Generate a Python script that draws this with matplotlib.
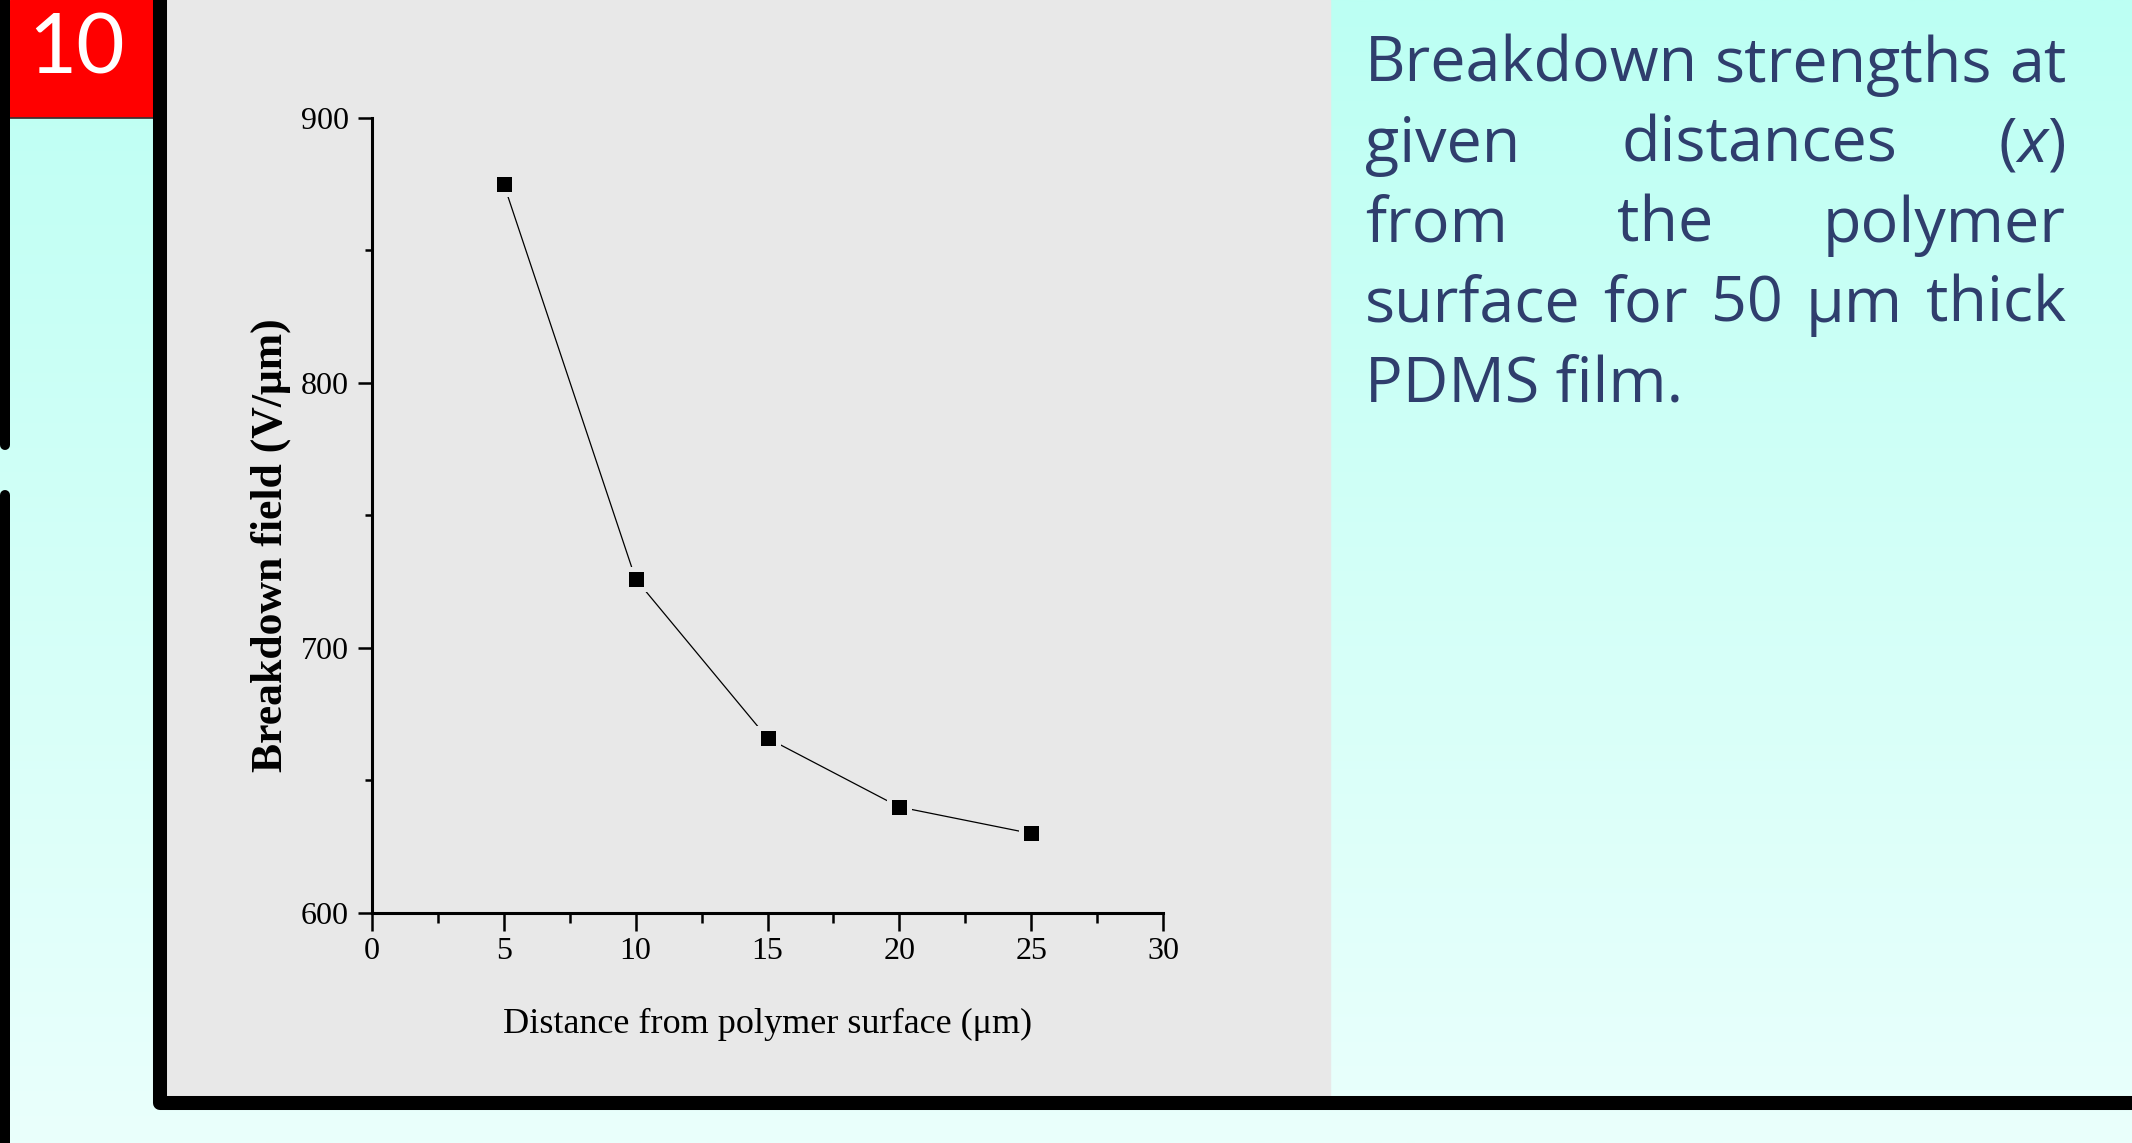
import matplotlib
matplotlib.use("Agg")
import matplotlib.pyplot as plt
import numpy as np
from matplotlib.patches import Rectangle
from matplotlib.ticker import MultipleLocator

# chart data
distance = [5, 10, 15, 20, 25]          # um from polymer surface
field = [875, 726, 666, 640, 630]       # breakdown field, V/um
x_ticks = [0, 5, 10, 15, 20, 25, 30]
y_ticks = [600, 700, 800, 900]

slide_no = "10"
x_label = "Distance from polymer surface (μm)"
y_label = "Breakdown field (V/μm)"
caption = [
    ["Breakdown", "strengths", "at"],
    ["given", "distances", "(*x*)"],
    ["from", "the", "polymer"],
    ["surface", "for", "50", "μm", "thick"],
    ["PDMS", "film."],
]

W, H = 2132, 1143
plt.rcParams["font.family"] = ["Liberation Serif", "DejaVu Serif"]

fig = plt.figure(figsize=(W / 100, H / 100), dpi=100)

# slide background, in pixel coordinates
bg = fig.add_axes([0, 0, 1, 1])
top_c = np.array([188, 255, 243]) / 255
bot_c = np.array([234, 255, 252]) / 255
t = np.linspace(0, 1, 256)[:, None, None]
grad = top_c * (1 - t) + bot_c * t
bg.imshow(grad, extent=[0, W, H, 0], aspect="auto", interpolation="bilinear", zorder=0)
bg.set_xlim(0, W)
bg.set_ylim(H, 0)
bg.axis("off")

bg.add_patch(Rectangle((167, 0), 1330 - 167, 1096, color="#E8E8E8", zorder=1))
bg.add_patch(Rectangle((10, 0), 143, 117, color="#FF0000", zorder=2))
bg.plot([10, 153], [117.5, 117.5], color="#333333", lw=1.2, zorder=2)
bg.plot([160, 160, 2145], [-20, 1102.5, 1102.5], color="black", lw=10.1,
        solid_joinstyle="round", solid_capstyle="butt", zorder=3)
bg.plot([5, 5], [-20, 445], color="black", lw=7.2, solid_capstyle="round", zorder=3)
bg.plot([5, 5], [495, 1180], color="black", lw=7.2, solid_capstyle="round", zorder=3)

bg.text(77, 51, slide_no, color="white", fontsize=60, family="Lato",
        ha="center", va="center", zorder=4)

# caption, justified like the slide text box
cap_font = dict(fontsize=45.3, family="Open Sans", color="#2F3E6D")
left, right = 1365, 2066
baselines = [82, 162, 242, 322, 402]
r = fig.canvas.get_renderer()


def runs_of(word):
    parts = word.split("*")
    return [(p, "italic" if i % 2 else "normal") for i, p in enumerate(parts) if p]


def width_of(s, style):
    tx = bg.text(0, 0, s, style=style, **cap_font)
    w = tx.get_window_extent(r).width
    tx.remove()
    return w


for i, words in enumerate(caption):
    y = baselines[i]
    if i == len(caption) - 1:
        bg.text(left, y, " ".join(words), va="baseline", ha="left", zorder=4, **cap_font)
        continue
    widths = [sum(width_of(s, st) for s, st in runs_of(w)) for w in words]
    gap = max((right - left - sum(widths)) / (len(words) - 1), 14)
    x = left
    for w, ww in zip(words, widths):
        xx = x
        for s, st in runs_of(w):
            bg.text(xx, y, s, style=st, va="baseline", ha="left", zorder=4, **cap_font)
            xx += width_of(s, st)
        x += ww + gap

# the chart itself
ax = fig.add_axes([372 / W, 1 - 913 / H, (1163 - 372) / W, (913 - 118) / H])
ax.patch.set_visible(False)

ax.plot(distance, field, color="black", lw=0.9, zorder=2)
ax.plot(distance, field, ls="none", marker="s", ms=13.8, mew=3.6,
        mfc="black", mec="#E8E8E8", zorder=3)

ax.set_xlim(0, 30)
ax.set_ylim(600, 900)
ax.set_xticks(x_ticks)
ax.set_yticks(y_ticks)
ax.xaxis.set_minor_locator(MultipleLocator(2.5))
ax.yaxis.set_minor_locator(MultipleLocator(50))

for side in ["top", "right"]:
    ax.spines[side].set_visible(False)
for side in ["left", "bottom"]:
    ax.spines[side].set_linewidth(2.2)

ax.tick_params(axis="x", which="major", length=13, width=1.8, pad=4, labelsize=23)
ax.tick_params(axis="x", which="minor", length=7, width=1.8)
ax.tick_params(axis="y", which="major", length=10, width=1.8, pad=6.5, labelsize=23)
ax.tick_params(axis="y", which="minor", length=5, width=1.8)

ax.set_xlabel(x_label, fontsize=26)
ax.xaxis.set_label_coords(0.5, -0.119)
ax.set_ylabel(y_label, fontsize=31.5, fontweight="bold")
ax.yaxis.set_label_coords(-0.102, 0.463)

fig.savefig("out.png", dpi=100)
